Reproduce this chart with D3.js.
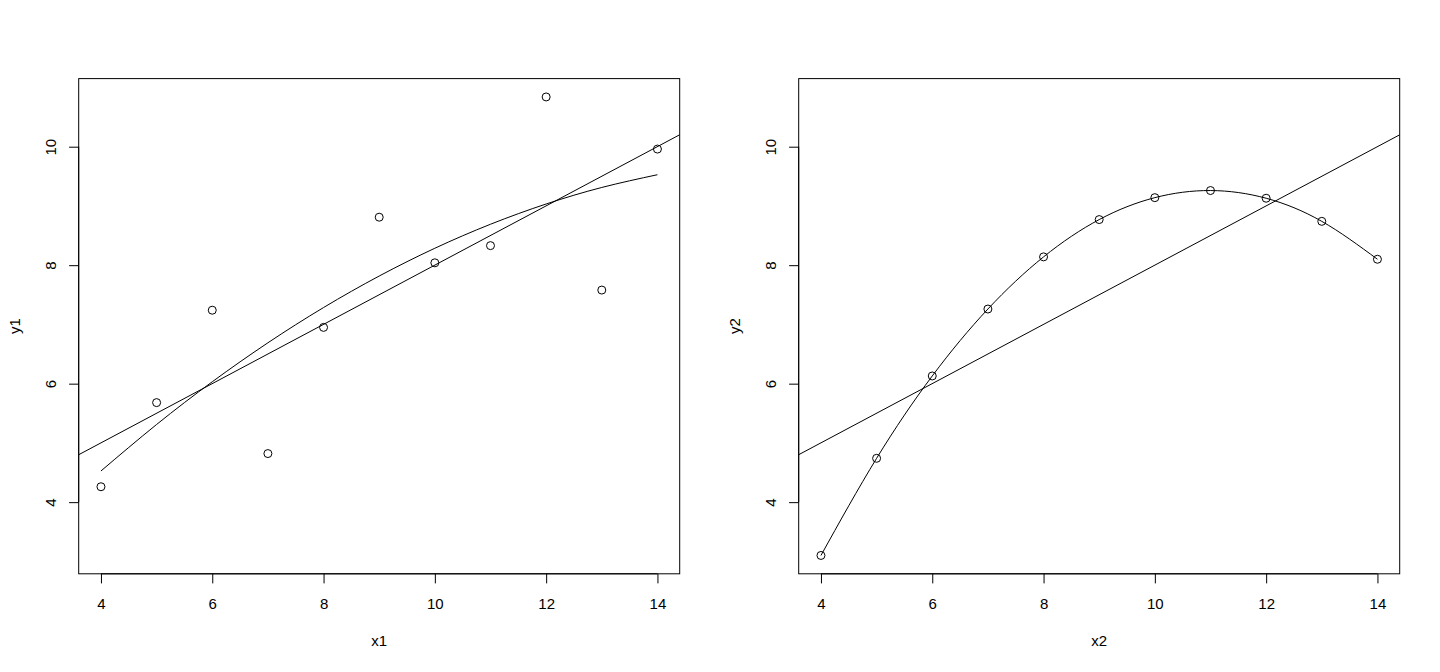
<!DOCTYPE html>
<html>
<head>
<meta charset="utf-8">
<script src="https://cdn.jsdelivr.net/npm/d3@7"></script>
<style>
  html, body { margin: 0; padding: 0; background: #fff; }
  svg { display: block; font-family: "Liberation Sans", Arial, Helvetica, sans-serif; }
</style>
</head>
<body>
<svg id="chart" width="1440" height="672"></svg>
<script>
// ---- Data (Anscombe's quartet, sets 1 and 2) ----
const xValues = [10, 8, 13, 9, 11, 14, 6, 4, 12, 7, 5];
const y1Values = [8.04, 6.95, 7.58, 8.81, 8.33, 9.96, 7.24, 4.26, 10.84, 4.82, 5.68];
const y2Values = [9.14, 8.14, 8.74, 8.77, 9.26, 8.10, 6.13, 3.10, 9.13, 7.26, 4.74];

// straight-line fits: [intercept, slope]
const lmCoef1 = [3.0001, 0.5001];
const lmCoef2 = [3.0009, 0.5000];

// curved fit values at sorted x
const fitX = [4, 5, 6, 7, 8, 9, 10, 11, 12, 13, 14];
const fitY1 = [4.526, 5.311, 6.032, 6.690, 7.285, 7.817, 8.286, 8.691, 9.033, 9.312, 9.527];
const fitY2 = [3.10, 4.74, 6.13, 7.26, 8.14, 8.77, 9.14, 9.26, 9.13, 8.74, 8.10];

const xTicks = [4, 6, 8, 10, 12, 14];
const yTicks = [4, 6, 8, 10];
const xLabels = ["x1", "x2"];
const yLabels = ["y1", "y2"];

// ---- Layout ----
const svg = d3.select("#chart");
const panelW = 720;
const box = { left: 78.7, right: 679.7, top: 78.6, bottom: 573.8 };
const fontSize = 15;

function extend(r) { const d = (r[1] - r[0]) * 0.04; return [r[0] - d, r[1] + d]; }
const xDomain = extend(d3.extent(xValues));
const yDomain = extend(d3.extent(y1Values.concat(y2Values)));

const panels = [
  { ys: y1Values, coef: lmCoef1, fit: fitY1 },
  { ys: y2Values, coef: lmCoef2, fit: fitY2 }
];

panels.forEach((p, i) => {
  const g = svg.append("g").attr("transform", `translate(${i * panelW},0)`);
  const x = d3.scaleLinear().domain(xDomain).range([box.left, box.right]);
  const y = d3.scaleLinear().domain(yDomain).range([box.bottom, box.top]);

  const clipId = "clip" + i;
  g.append("clipPath").attr("id", clipId).append("rect")
    .attr("x", box.left).attr("y", box.top)
    .attr("width", box.right - box.left).attr("height", box.bottom - box.top);

  // points
  g.append("g").selectAll("circle").data(xValues).join("circle")
    .attr("cx", d => x(d))
    .attr("cy", (d, j) => y(p.ys[j]))
    .attr("r", 4)
    .attr("fill", "none").attr("stroke", "#000").attr("stroke-width", 1);

  // straight line (abline)
  g.append("line")
    .attr("clip-path", `url(#${clipId})`)
    .attr("x1", x(xDomain[0])).attr("y1", y(p.coef[0] + p.coef[1] * xDomain[0]))
    .attr("x2", x(xDomain[1])).attr("y2", y(p.coef[0] + p.coef[1] * xDomain[1]))
    .attr("stroke", "#000").attr("stroke-width", 1);

  // curved fit
  const line = d3.line().curve(d3.curveNatural).x(d => x(d[0])).y(d => y(d[1]));
  g.append("path")
    .datum(fitX.map((v, j) => [v, p.fit[j]]))
    .attr("d", line)
    .attr("fill", "none").attr("stroke", "#000").attr("stroke-width", 1);

  // box
  g.append("rect")
    .attr("x", box.left).attr("y", box.top)
    .attr("width", box.right - box.left).attr("height", box.bottom - box.top)
    .attr("fill", "none").attr("stroke", "#000").attr("stroke-width", 1);

  // x axis
  const xa = g.append("g").attr("transform", `translate(0,${box.bottom})`)
    .call(d3.axisBottom(x).tickValues(xTicks).tickSize(9.6).tickFormat(d3.format("d")));
  xa.select(".domain").attr("d", `M${x(xTicks[0])},0H${x(xTicks[xTicks.length - 1])}`);
  xa.selectAll("text").attr("y", 30).attr("dy", "0.35em")
    .attr("font-size", fontSize).attr("fill", "#000");
  xa.attr("font-family", null);

  // y axis
  const ya = g.append("g").attr("transform", `translate(${box.left},0)`)
    .call(d3.axisLeft(y).tickValues(yTicks).tickSize(9.6).tickFormat(d3.format("d")));
  ya.select(".domain").attr("d", `M0,${y(yTicks[0])}V${y(yTicks[yTicks.length - 1])}`);
  ya.selectAll("text")
    .attr("transform", "rotate(-90)")
    .attr("x", 0).attr("y", -28).attr("dy", "0.35em")
    .attr("text-anchor", "middle")
    .attr("font-size", fontSize).attr("fill", "#000");
  ya.attr("font-family", null);

  // axis titles
  g.append("text")
    .attr("x", (box.left + box.right) / 2).attr("y", 641).attr("dy", "0.35em")
    .attr("text-anchor", "middle").attr("font-size", fontSize)
    .text(xLabels[i]);
  g.append("text")
    .attr("transform", `translate(15,${(box.top + box.bottom) / 2}) rotate(-90)`)
    .attr("dy", "0.35em")
    .attr("text-anchor", "middle").attr("font-size", fontSize)
    .text(yLabels[i]);
});
</script>
</body>
</html>
